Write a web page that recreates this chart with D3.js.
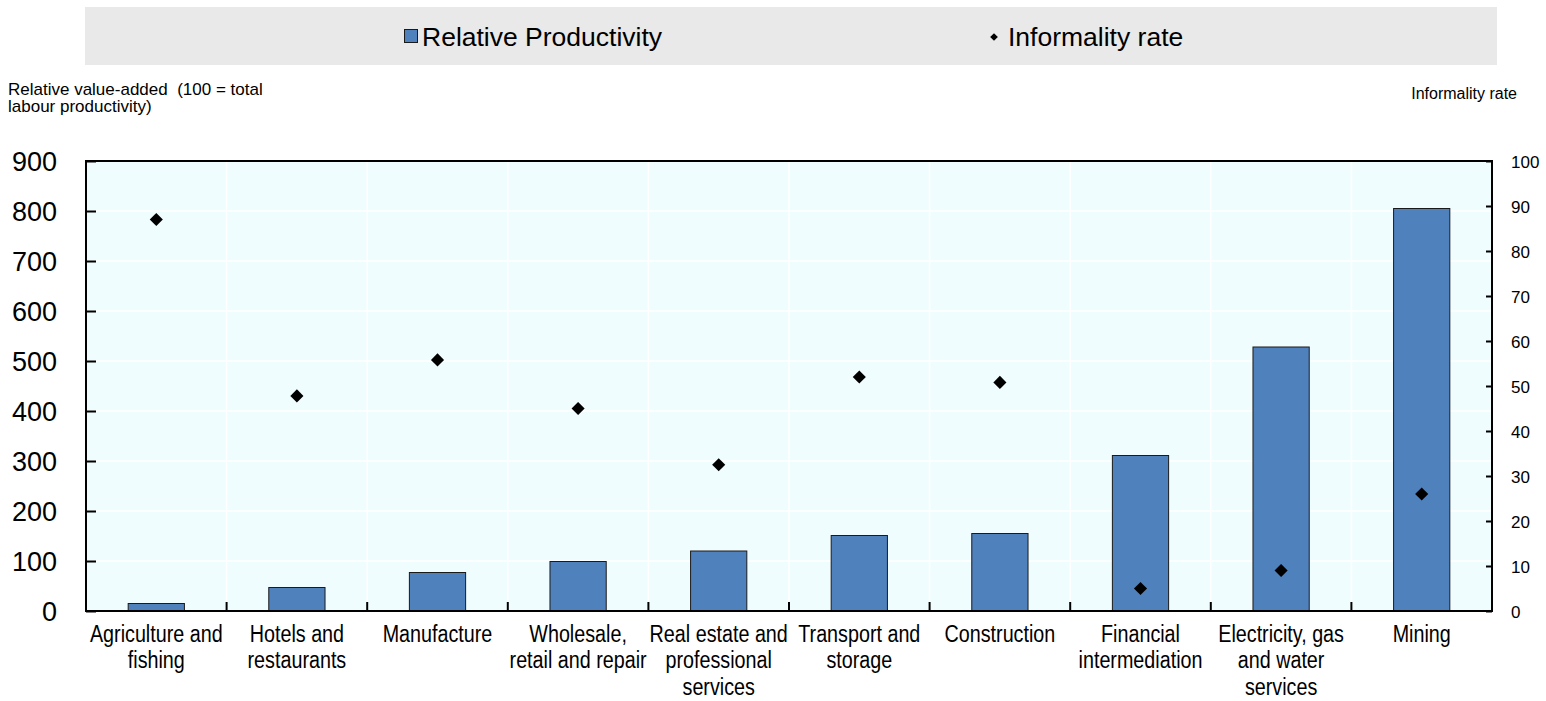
<!DOCTYPE html>
<html>
<head>
<meta charset="utf-8">
<script src="https://cdn.jsdelivr.net/npm/d3@7"></script>
<style>
  body { margin: 0; background: #fff; }
  svg text { font-family: "Liberation Sans", Arial, sans-serif; fill: #000; white-space: pre; }
</style>
</head>
<body>
<svg id="chart" width="1546" height="701"></svg>
<script>
// sectors, ordered by relative productivity
var categories = [
  "Agriculture and\nfishing",
  "Hotels and\nrestaurants",
  "Manufacture",
  "Wholesale,\nretail and repair",
  "Real estate and\nprofessional\nservices",
  "Transport and\nstorage",
  "Construction",
  "Financial\nintermediation",
  "Electricity, gas\nand water\nservices",
  "Mining"
];
// relative value-added, 100 = total labour productivity
var productivity = [15, 47, 77, 99, 120, 151, 155, 311, 528, 805];
// informality rate, %
var informality = [87, 47.8, 55.8, 45, 32.5, 52, 50.8, 5, 9, 26];

var leftTicks = [0, 100, 200, 300, 400, 500, 600, 700, 800, 900];
var rightTicks = [0, 10, 20, 30, 40, 50, 60, 70, 80, 90, 100];

var margin = { top: 161, right: 54, bottom: 90, left: 86 },
  W = 1546, H = 701;

var svg = d3.select("#chart");

var x = d3.scaleBand()
  .domain(categories)
  .range([margin.left, W - margin.right])
  .paddingInner(0.6)
  .paddingOuter(0.3);
var yL = d3.scaleLinear().domain([0, 900]).range([H - margin.bottom, margin.top]);
var yR = d3.scaleLinear().domain([0, 100]).range([H - margin.bottom, margin.top]);

var x0 = margin.left, x1 = W - margin.right, y0 = H - margin.bottom, y1 = margin.top;
var step = x.step();
var bounds = categories.map(function (c) { return x(c) - step * 0.3; }).slice(1);

// legend
svg.append("rect").attr("x", 85).attr("y", 7).attr("width", 1412).attr("height", 58).attr("fill", "#e9e9e9");
svg.append("rect").attr("x", 404.5).attr("y", 29.5).attr("width", 13).attr("height", 13)
  .attr("fill", "#4f81bd").attr("stroke", "#1a1a1a").attr("stroke-width", 1);
svg.append("text").attr("x", 422).attr("y", 46).style("font-size", "26.5px").text("Relative Productivity");
svg.append("path").attr("d", d3.symbol(d3.symbolSquare, 30)())
  .attr("transform", "translate(994,37) rotate(45)").attr("fill", "#000");
svg.append("text").attr("x", 1008).attr("y", 46).style("font-size", "26.5px").text("Informality rate");

// axis titles
svg.append("text").attr("x", 8).attr("y", 95).style("font-size", "17px").text("Relative value-added  (100 = total");
svg.append("text").attr("x", 8).attr("y", 112).style("font-size", "17px").text("labour productivity)");
svg.append("text").attr("x", 1517).attr("y", 99).attr("text-anchor", "end").style("font-size", "16px").text("Informality rate");

// plot background and grid
svg.append("rect").attr("x", x0).attr("y", y1).attr("width", x1 - x0).attr("height", y0 - y1).attr("fill", "#f0fdfe");
svg.append("g").selectAll("line").data(leftTicks.slice(1, -1)).join("line")
  .attr("x1", x0).attr("x2", x1).attr("y1", function (d) { return yL(d); }).attr("y2", function (d) { return yL(d); })
  .attr("stroke", "#fff").attr("stroke-width", 1.5);
svg.append("g").selectAll("line").data(bounds).join("line")
  .attr("x1", function (d) { return d; }).attr("x2", function (d) { return d; }).attr("y1", y1).attr("y2", y0)
  .attr("stroke", "#fff").attr("stroke-width", 1.5);

// bars
svg.append("g").selectAll("rect").data(productivity).join("rect")
  .attr("x", function (d, i) { return x(categories[i]); })
  .attr("width", x.bandwidth())
  .attr("y", function (d) { return yL(d); })
  .attr("height", function (d) { return y0 - yL(d); })
  .attr("fill", "#4f81bd").attr("stroke", "#1a1a1a").attr("stroke-width", 1);

// diamonds
svg.append("g").selectAll("path").data(informality).join("path")
  .attr("d", d3.symbol(d3.symbolSquare, 86)())
  .attr("transform", function (d, i) {
    return "translate(" + (x(categories[i]) + x.bandwidth() / 2) + "," + yR(d) + ") rotate(45)";
  })
  .attr("fill", "#000");

// axes
var gl = svg.append("g").attr("transform", "translate(" + x0 + ",0)")
  .call(d3.axisLeft(yL).tickValues(leftTicks).tickSize(-10).tickPadding(29).tickSizeOuter(0));
gl.selectAll("text").style("font-size", "27px").attr("dy", "0.36em");
var gr = svg.append("g").attr("transform", "translate(" + x1 + ",0)")
  .call(d3.axisRight(yR).tickValues(rightTicks).tickSize(-6).tickPadding(19).tickSizeOuter(0));
gr.selectAll("text").style("font-size", "17px").attr("dy", "0.36em");
svg.selectAll(".domain").remove();
svg.selectAll(".tick line").attr("stroke", "#000").attr("stroke-width", 2);

// bottom ticks at category boundaries
svg.append("g").selectAll("line").data(bounds).join("line")
  .attr("x1", function (d) { return d; }).attr("x2", function (d) { return d; })
  .attr("y1", y0).attr("y2", y0 - 9).attr("stroke", "#000").attr("stroke-width", 2);

// frame
svg.append("rect").attr("x", x0).attr("y", y1).attr("width", x1 - x0).attr("height", y0 - y1)
  .attr("fill", "none").attr("stroke", "#000").attr("stroke-width", 2);

// category labels (narrow face, no Arial Narrow here so squeeze horizontally)
var cat = svg.append("g").selectAll("text").data(categories).join("text")
  .attr("text-anchor", "middle")
  .attr("transform", function (d) { return "translate(" + (x(d) + x.bandwidth() / 2) + ",642) scale(0.84,1)"; })
  .style("font-size", "23.5px");
cat.selectAll("tspan").data(function (d) { return d.split("\n"); }).join("tspan")
  .attr("x", 0)
  .attr("dy", function (d, i) { return i ? 26.5 : 0; })
  .text(function (d) { return d; });
</script>
</body>
</html>
